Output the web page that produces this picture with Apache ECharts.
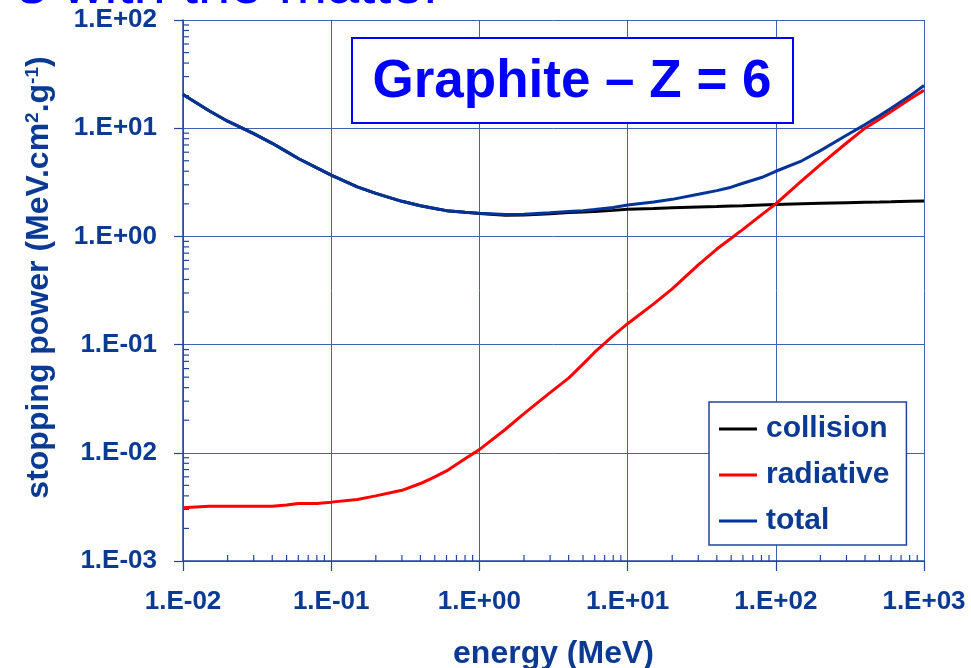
<!DOCTYPE html>
<html>
<head>
<meta charset="utf-8">
<script src="https://cdn.jsdelivr.net/npm/echarts@6/dist/echarts.min.js"></script>
<style>
html,body{margin:0;padding:0;background:#fff;}
#chart{width:971px;height:668px;}
</style>
</head>
<body>
<div id="chart"></div>
<script>
// Energy (MeV)
const energy = [0.01, 0.015, 0.02, 0.03, 0.04, 0.05, 0.06, 0.08, 0.1, 0.15, 0.2, 0.3, 0.4, 0.5, 0.6, 0.8,
  1, 1.5, 2, 3, 4, 5, 6, 8, 10, 15, 20, 30, 40, 50, 60, 80, 100, 150, 200, 300, 400, 500, 600, 800, 1000];
// Stopping powers (MeV.cm2/g)
const collision = [20.5, 14.5, 11.6, 8.9, 7.25, 6.07, 5.25, 4.3, 3.69, 2.87, 2.5, 2.11, 1.92, 1.81, 1.73, 1.67,
  1.63, 1.57, 1.58, 1.62, 1.66, 1.68, 1.70, 1.74, 1.78, 1.81, 1.84, 1.87, 1.89, 1.91, 1.92, 1.95, 1.97, 2.0, 2.02, 2.05, 2.07, 2.08, 2.09, 2.11, 2.12];
const radiative = [0.0031, 0.0032, 0.0032, 0.0032, 0.0032, 0.0033, 0.0034, 0.0034, 0.0035, 0.0037, 0.0040, 0.0045, 0.0052, 0.0060, 0.0068, 0.0088,
  0.0107, 0.0165, 0.023, 0.036, 0.049, 0.066, 0.085, 0.121, 0.156, 0.238, 0.327, 0.545, 0.764, 0.96, 1.16, 1.58, 2.0, 3.28, 4.6, 7.3, 10.0, 12.1, 14.3, 18.5, 22.4];
const total = [20.5, 14.5, 11.6, 8.9, 7.25, 6.07, 5.25, 4.3, 3.69, 2.87, 2.5, 2.11, 1.92, 1.81, 1.73, 1.67,
  1.64, 1.59, 1.60, 1.65, 1.70, 1.73, 1.77, 1.85, 1.95, 2.08, 2.2, 2.45, 2.65, 2.85, 3.1, 3.5, 4.0, 5.0, 6.2, 8.6, 10.8, 13.0, 15.3, 19.8, 24.8];

const seriesNames = ['collision', 'radiative', 'total'];
const xTickLabels = {'-2': '1.E-02', '-1': '1.E-01', '0': '1.E+00', '1': '1.E+01', '2': '1.E+02', '3': '1.E+03'};
const yTickLabels = {'-3': '1.E-03', '-2': '1.E-02', '-1': '1.E-01', '0': '1.E+00', '1': '1.E+01', '2': '1.E+02'};
const xDecades = [-2, -1, 0, 1, 2];
const yDecades = [-3, -2, -1, 0, 1];
const minorMultipliers = [2, 3, 4, 5, 6, 7, 8, 9];

const textBlue = '#0B3A95';
const axisBlue = '#1F45A0';
const gridBlue = '#3C62B6';

const xMin = 0.01, xMax = 1000, yMin = 0.001, yMax = 100;

function pairs(vals) { return energy.map((e, i) => [e, vals[i]]); }

const xMinor = [];
xDecades.forEach(d => minorMultipliers.forEach(m => xMinor.push([m * Math.pow(10, d), yMin])));
const yMinor = [];
yDecades.forEach(d => minorMultipliers.forEach(m => yMinor.push([xMin, m * Math.pow(10, d)])));

function labelFor(map) {
  return function (v) { const e = Math.round(Math.log10(v)); return map[String(e)] || ''; };
}

const chart = echarts.init(document.getElementById('chart'), null, {renderer: 'canvas'});
const fontFam = 'Liberation Sans, Arial, sans-serif';

chart.setOption({
  backgroundColor: '#ffffff',
  animation: false,
  grid: {left: 183, right: 47, top: 20, bottom: 107, containLabel: false, outerBoundsMode: 'none'},
  xAxis: {
    type: 'log', logBase: 10, min: xMin, max: xMax, splitNumber: 5,
    name: 'energy (MeV)', nameLocation: 'middle', nameGap: 77,
    nameTextStyle: {color: textBlue, fontSize: 32, fontWeight: 'bold', fontFamily: fontFam},
    axisLine: {show: true, onZero: false, lineStyle: {color: axisBlue, width: 1.5}},
    axisTick: {show: true, inside: false, length: 10, lineStyle: {color: axisBlue, width: 1.2}},
    minorTick: {show: false},
    splitLine: {show: true, lineStyle: {color: gridBlue, width: 1}},
    axisLabel: {formatter: labelFor(xTickLabels), color: textBlue, fontSize: 26, fontWeight: 'bold', fontFamily: fontFam, margin: 28}
  },
  yAxis: {
    type: 'log', logBase: 10, min: yMin, max: yMax, splitNumber: 5,
    name: 'stopping power (MeV.cm{sup|2}.g{sup|-1})', nameLocation: 'middle', nameGap: 128, nameRotate: 90,
    nameTextStyle: {color: textBlue, fontSize: 32, fontWeight: 'bold', fontFamily: fontFam, padding: [0, 0, 0, 26],
      rich: {sup: {fontSize: 19, fontWeight: 'bold', color: textBlue, fontFamily: fontFam, verticalAlign: 'top', padding: [0, 0, 13, 0]}}},
    axisLine: {show: true, onZero: false, lineStyle: {color: axisBlue, width: 1.5}},
    axisTick: {show: true, inside: false, length: 9, lineStyle: {color: axisBlue, width: 1.2}},
    minorTick: {show: false},
    splitLine: {show: true, lineStyle: {color: gridBlue, width: 1}},
    axisLabel: {formatter: labelFor(yTickLabels), color: textBlue, fontSize: 26, fontWeight: 'bold', fontFamily: fontFam, margin: 26}
  },
  legend: {
    data: seriesNames,
    orient: 'vertical',
    left: 709, top: 402,
    backgroundColor: '#ffffff',
    borderColor: axisBlue, borderWidth: 1.5,
    padding: [12, 17, 9, 10],
    itemGap: 16,
    itemWidth: 38, itemHeight: 3,
    icon: 'rect',
    textStyle: {color: textBlue, fontSize: 30, fontWeight: 'bold', fontFamily: fontFam, lineHeight: 30, padding: [0, 0, 0, 4]}
  },
  graphic: [
    {type: 'text', x: 443, y: -13, z: 100,
      style: {text: 's with the matter', fill: '#0000FF', font: '58px Liberation Sans, Arial, sans-serif', textAlign: 'right', textVerticalAlign: 'middle'}},
    {type: 'rect', x: 352, y: 38, z: 100, shape: {x: 0, y: 0, width: 441, height: 85},
      style: {fill: '#ffffff', stroke: '#0000FF', lineWidth: 2}},
    {type: 'text', x: 572, y: 82, z: 101,
      style: {text: 'Graphite – Z = 6', fill: '#0000FF', font: 'bold 53px Liberation Sans, Arial, sans-serif', textAlign: 'center', textVerticalAlign: 'middle'}}
  ],
  series: [
    {name: 'collision', type: 'line', data: pairs(collision), showSymbol: false, symbol: 'none',
      lineStyle: {color: '#000000', width: 3}, itemStyle: {color: '#000000'}, z: 3},
    {name: 'radiative', type: 'line', data: pairs(radiative), showSymbol: false, symbol: 'none',
      lineStyle: {color: '#FF0000', width: 3}, itemStyle: {color: '#FF0000'}, z: 4},
    {name: 'total', type: 'line', data: pairs(total), showSymbol: false, symbol: 'none',
      lineStyle: {color: '#003399', width: 3}, itemStyle: {color: '#003399'}, z: 5},
    {name: 'xminor', type: 'custom', data: xMinor, silent: true, z: 2,
      renderItem: function (params, api) {
        const p = api.coord([api.value(0), api.value(1)]);
        return {type: 'line', shape: {x1: p[0], y1: p[1], x2: p[0], y2: p[1] - 6}, style: {stroke: axisBlue, lineWidth: 1.2}};
      }},
    {name: 'yminor', type: 'custom', data: yMinor, silent: true, z: 2,
      renderItem: function (params, api) {
        const p = api.coord([api.value(0), api.value(1)]);
        return {type: 'line', shape: {x1: p[0], y1: p[1], x2: p[0] + 6, y2: p[1]}, style: {stroke: axisBlue, lineWidth: 1.2}};
      }}
  ]
});
</script>
</body>
</html>
